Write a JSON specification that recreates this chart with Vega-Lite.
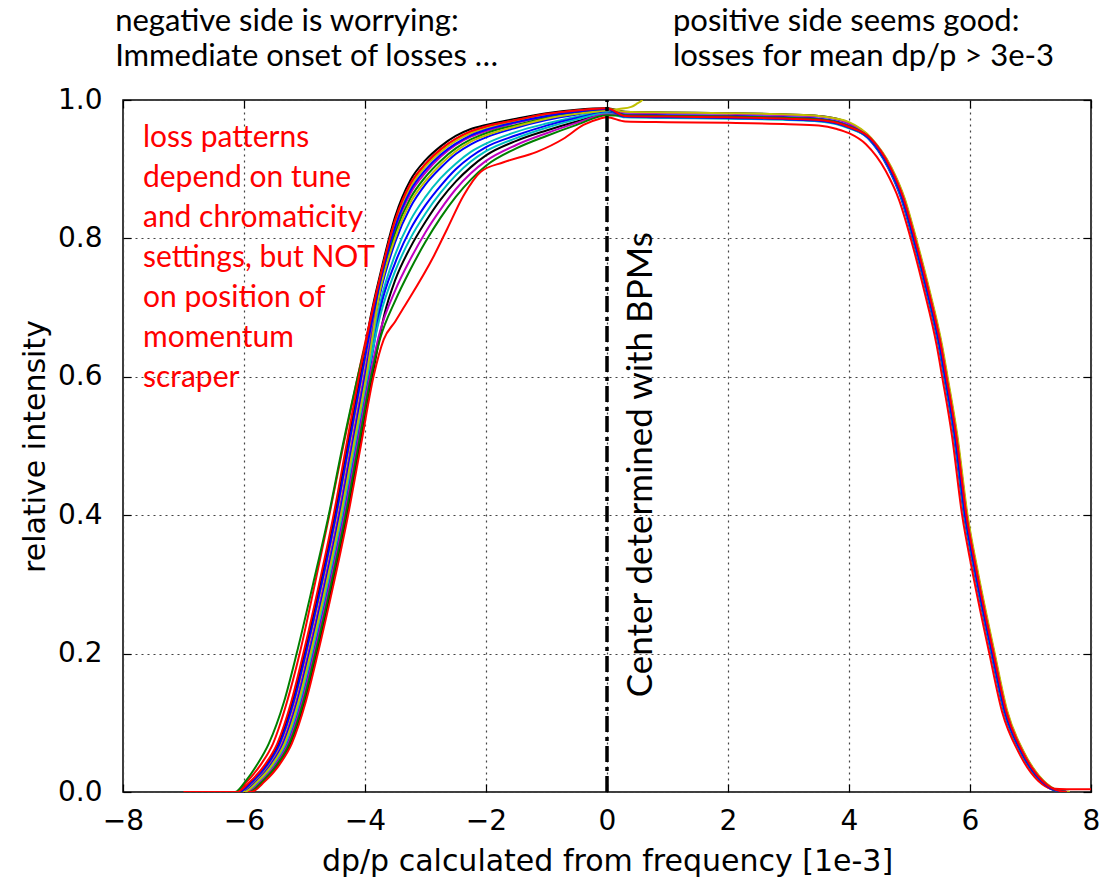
{
"$schema": "https://vega.github.io/schema/vega-lite/v6.json",
"width": 968, "height": 692,
"autosize": {"type": "none"},
"padding": {"left": 123, "top": 100, "right": 14, "bottom": 97},
"background": "white",
"config": {"view": {"stroke": "black", "strokeWidth": 1.5}},
"datasets": {
"notes": [
{"g":"top","t":"negative side is worrying:","x":-8.13,"y":1.0997},
{"g":"top","t":"Immediate onset of losses …","x":-8.13,"y":1.049},
{"g":"top","t":"positive side seems good:","x":1.09,"y":1.0997},
{"g":"top","t":"losses for mean dp/p > 3e-3","x":1.09,"y":1.049},
{"g":"red","t":"loss patterns","x":-7.67,"y":0.9325},
{"g":"red","t":"depend on tune","x":-7.67,"y":0.8747},
{"g":"red","t":"and chromaticity","x":-7.67,"y":0.8165},
{"g":"red","t":"settings, but NOT","x":-7.67,"y":0.7591},
{"g":"red","t":"on position of","x":-7.67,"y":0.7013},
{"g":"red","t":"momentum","x":-7.67,"y":0.6435},
{"g":"red","t":"scraper","x":-7.67,"y":0.5857},
{"g":"rot","t":"Center determined with BPMs","x":0.74,"y":0.137}
],
"center": [{"x":0,"y":0,"y2":1}],
"curves": [
{"c":1,"s":"k","x":-6.35,"y":0},{"c":1,"s":"k","x":-6.10,"y":0},{"c":1,"s":"k","x":-5.88,"y":0.015},{"c":1,"s":"k","x":-5.63,"y":0.04},{"c":1,"s":"k","x":-5.43,"y":0.07},{"c":1,"s":"k","x":-5.20,"y":0.13},{"c":1,"s":"k","x":-5.00,"y":0.2},{"c":1,"s":"k","x":-4.74,"y":0.3},{"c":1,"s":"k","x":-4.50,"y":0.4},{"c":1,"s":"k","x":-4.29,"y":0.5},{"c":1,"s":"k","x":-4.08,"y":0.6},{"c":1,"s":"k","x":-3.9,"y":0.69},{"c":1,"s":"k","x":-3.75,"y":0.748},{"c":1,"s":"k","x":-3.5,"y":0.832},{"c":1,"s":"k","x":-3.25,"y":0.884},{"c":1,"s":"k","x":-3.0,"y":0.913},{"c":1,"s":"k","x":-2.75,"y":0.933},{"c":1,"s":"k","x":-2.5,"y":0.948},{"c":1,"s":"k","x":-2.25,"y":0.958},{"c":1,"s":"k","x":-2.0,"y":0.964},{"c":1,"s":"k","x":-1.5,"y":0.973},{"c":1,"s":"k","x":-1.0,"y":0.981},{"c":1,"s":"k","x":-0.5,"y":0.986},{"c":1,"s":"k","x":0,"y":0.988},{"c":1,"s":"k","x":0.3,"y":0.983},{"c":1,"s":"k","x":1,"y":0.982},{"c":1,"s":"k","x":2,"y":0.981},{"c":1,"s":"k","x":3,"y":0.979},{"c":1,"s":"k","x":3.5,"y":0.977},{"c":1,"s":"k","x":3.8,"y":0.973},{"c":1,"s":"k","x":4.0,"y":0.967},{"c":1,"s":"k","x":4.36,"y":0.945},{"c":1,"s":"k","x":4.69,"y":0.903},{"c":1,"s":"k","x":4.91,"y":0.858},{"c":1,"s":"k","x":5.10,"y":0.8},{"c":1,"s":"k","x":5.31,"y":0.729},{"c":1,"s":"k","x":5.53,"y":0.645},{"c":1,"s":"k","x":5.62,"y":0.6},{"c":1,"s":"k","x":5.78,"y":0.516},{"c":1,"s":"k","x":5.95,"y":0.4},{"c":1,"s":"k","x":6.11,"y":0.323},{"c":1,"s":"k","x":6.40,"y":0.2},{"c":1,"s":"k","x":6.61,"y":0.116},{"c":1,"s":"k","x":6.88,"y":0.058},{"c":1,"s":"k","x":7.21,"y":0.016},{"c":1,"s":"k","x":7.43,"y":0.003},{"c":1,"s":"k","x":7.65,"y":0},

{"c":2,"s":"m","x":-6.35,"y":0},{"c":2,"s":"m","x":-6.04,"y":0},{"c":2,"s":"m","x":-5.82,"y":0.015},{"c":2,"s":"m","x":-5.57,"y":0.04},{"c":2,"s":"m","x":-5.37,"y":0.07},{"c":2,"s":"m","x":-5.14,"y":0.13},{"c":2,"s":"m","x":-4.94,"y":0.2},{"c":2,"s":"m","x":-4.68,"y":0.3},{"c":2,"s":"m","x":-4.44,"y":0.4},{"c":2,"s":"m","x":-4.23,"y":0.5},{"c":2,"s":"m","x":-4.02,"y":0.6},{"c":2,"s":"m","x":-3.75,"y":0.734},{"c":2,"s":"m","x":-3.5,"y":0.814},{"c":2,"s":"m","x":-3.25,"y":0.865},{"c":2,"s":"m","x":-3.0,"y":0.895},{"c":2,"s":"m","x":-2.75,"y":0.918},{"c":2,"s":"m","x":-2.5,"y":0.935},{"c":2,"s":"m","x":-2.25,"y":0.947},{"c":2,"s":"m","x":-2.0,"y":0.955},{"c":2,"s":"m","x":-1.5,"y":0.967},{"c":2,"s":"m","x":-1.0,"y":0.976},{"c":2,"s":"m","x":-0.5,"y":0.983},{"c":2,"s":"m","x":0,"y":0.986},{"c":2,"s":"m","x":0.3,"y":0.982},{"c":2,"s":"m","x":1,"y":0.981},{"c":2,"s":"m","x":2,"y":0.980},{"c":2,"s":"m","x":3,"y":0.978},{"c":2,"s":"m","x":3.5,"y":0.976},{"c":2,"s":"m","x":3.8,"y":0.972},{"c":2,"s":"m","x":4.0,"y":0.966},{"c":2,"s":"m","x":4.36,"y":0.945},{"c":2,"s":"m","x":4.69,"y":0.903},{"c":2,"s":"m","x":4.91,"y":0.858},{"c":2,"s":"m","x":5.10,"y":0.8},{"c":2,"s":"m","x":5.31,"y":0.729},{"c":2,"s":"m","x":5.53,"y":0.645},{"c":2,"s":"m","x":5.62,"y":0.6},{"c":2,"s":"m","x":5.78,"y":0.516},{"c":2,"s":"m","x":5.95,"y":0.4},{"c":2,"s":"m","x":6.11,"y":0.323},{"c":2,"s":"m","x":6.40,"y":0.2},{"c":2,"s":"m","x":6.61,"y":0.116},{"c":2,"s":"m","x":6.88,"y":0.058},{"c":2,"s":"m","x":7.21,"y":0.016},{"c":2,"s":"m","x":7.43,"y":0.003},{"c":2,"s":"m","x":7.65,"y":0},

{"c":3,"s":"b","x":-6.35,"y":0},{"c":3,"s":"b","x":-6.02,"y":0},{"c":3,"s":"b","x":-5.80,"y":0.015},{"c":3,"s":"b","x":-5.55,"y":0.04},{"c":3,"s":"b","x":-5.35,"y":0.07},{"c":3,"s":"b","x":-5.12,"y":0.13},{"c":3,"s":"b","x":-4.92,"y":0.2},{"c":3,"s":"b","x":-4.66,"y":0.3},{"c":3,"s":"b","x":-4.42,"y":0.4},{"c":3,"s":"b","x":-4.21,"y":0.5},{"c":3,"s":"b","x":-4.00,"y":0.6},{"c":3,"s":"b","x":-3.75,"y":0.720},{"c":3,"s":"b","x":-3.5,"y":0.795},{"c":3,"s":"b","x":-3.25,"y":0.845},{"c":3,"s":"b","x":-3.0,"y":0.878},{"c":3,"s":"b","x":-2.75,"y":0.902},{"c":3,"s":"b","x":-2.5,"y":0.922},{"c":3,"s":"b","x":-2.25,"y":0.936},{"c":3,"s":"b","x":-2.0,"y":0.946},{"c":3,"s":"b","x":-1.5,"y":0.960},{"c":3,"s":"b","x":-1.0,"y":0.971},{"c":3,"s":"b","x":-0.5,"y":0.979},{"c":3,"s":"b","x":0,"y":0.985},{"c":3,"s":"b","x":0.3,"y":0.979},{"c":3,"s":"b","x":1,"y":0.978},{"c":3,"s":"b","x":2,"y":0.977},{"c":3,"s":"b","x":3,"y":0.975},{"c":3,"s":"b","x":3.5,"y":0.973},{"c":3,"s":"b","x":3.8,"y":0.969},{"c":3,"s":"b","x":4.0,"y":0.963},{"c":3,"s":"b","x":4.33,"y":0.945},{"c":3,"s":"b","x":4.66,"y":0.903},{"c":3,"s":"b","x":4.88,"y":0.858},{"c":3,"s":"b","x":5.07,"y":0.8},{"c":3,"s":"b","x":5.28,"y":0.729},{"c":3,"s":"b","x":5.5,"y":0.645},{"c":3,"s":"b","x":5.59,"y":0.6},{"c":3,"s":"b","x":5.75,"y":0.516},{"c":3,"s":"b","x":5.92,"y":0.4},{"c":3,"s":"b","x":6.08,"y":0.323},{"c":3,"s":"b","x":6.37,"y":0.2},{"c":3,"s":"b","x":6.58,"y":0.116},{"c":3,"s":"b","x":6.85,"y":0.058},{"c":3,"s":"b","x":7.18,"y":0.016},{"c":3,"s":"b","x":7.4,"y":0.003},{"c":3,"s":"b","x":7.6,"y":0},

{"c":4,"s":"r","x":-6.35,"y":0},{"c":4,"s":"r","x":-6.12,"y":0},{"c":4,"s":"r","x":-5.95,"y":0.015},{"c":4,"s":"r","x":-5.72,"y":0.04},{"c":4,"s":"r","x":-5.52,"y":0.07},{"c":4,"s":"r","x":-5.29,"y":0.13},{"c":4,"s":"r","x":-5.08,"y":0.2},{"c":4,"s":"r","x":-4.83,"y":0.3},{"c":4,"s":"r","x":-4.59,"y":0.4},{"c":4,"s":"r","x":-4.36,"y":0.5},{"c":4,"s":"r","x":-4.12,"y":0.6},{"c":4,"s":"r","x":-3.75,"y":0.743},{"c":4,"s":"r","x":-3.5,"y":0.826},{"c":4,"s":"r","x":-3.25,"y":0.878},{"c":4,"s":"r","x":-3.0,"y":0.907},{"c":4,"s":"r","x":-2.75,"y":0.928},{"c":4,"s":"r","x":-2.5,"y":0.944},{"c":4,"s":"r","x":-2.25,"y":0.954},{"c":4,"s":"r","x":-2.0,"y":0.961},{"c":4,"s":"r","x":-1.5,"y":0.971},{"c":4,"s":"r","x":-1.0,"y":0.979},{"c":4,"s":"r","x":-0.5,"y":0.985},{"c":4,"s":"r","x":0,"y":0.987},{"c":4,"s":"r","x":0.3,"y":0.977},{"c":4,"s":"r","x":1,"y":0.976},{"c":4,"s":"r","x":2,"y":0.975},{"c":4,"s":"r","x":3,"y":0.973},{"c":4,"s":"r","x":3.5,"y":0.971},{"c":4,"s":"r","x":3.8,"y":0.967},{"c":4,"s":"r","x":4.0,"y":0.961},{"c":4,"s":"r","x":4.32,"y":0.945},{"c":4,"s":"r","x":4.65,"y":0.903},{"c":4,"s":"r","x":4.87,"y":0.858},{"c":4,"s":"r","x":5.06,"y":0.8},{"c":4,"s":"r","x":5.27,"y":0.729},{"c":4,"s":"r","x":5.49,"y":0.645},{"c":4,"s":"r","x":5.58,"y":0.6},{"c":4,"s":"r","x":5.74,"y":0.516},{"c":4,"s":"r","x":5.91,"y":0.4},{"c":4,"s":"r","x":6.07,"y":0.323},{"c":4,"s":"r","x":6.36,"y":0.2},{"c":4,"s":"r","x":6.57,"y":0.116},{"c":4,"s":"r","x":6.84,"y":0.058},{"c":4,"s":"r","x":7.17,"y":0.016},{"c":4,"s":"r","x":7.39,"y":0.003},{"c":4,"s":"r","x":7.6,"y":0},

{"c":5,"s":"c","x":-6.35,"y":0},{"c":5,"s":"c","x":-5.99,"y":0},{"c":5,"s":"c","x":-5.77,"y":0.015},{"c":5,"s":"c","x":-5.52,"y":0.04},{"c":5,"s":"c","x":-5.32,"y":0.07},{"c":5,"s":"c","x":-5.09,"y":0.13},{"c":5,"s":"c","x":-4.89,"y":0.2},{"c":5,"s":"c","x":-4.63,"y":0.3},{"c":5,"s":"c","x":-4.39,"y":0.4},{"c":5,"s":"c","x":-4.18,"y":0.5},{"c":5,"s":"c","x":-3.97,"y":0.6},{"c":5,"s":"c","x":-3.75,"y":0.706},{"c":5,"s":"c","x":-3.5,"y":0.777},{"c":5,"s":"c","x":-3.25,"y":0.826},{"c":5,"s":"c","x":-3.0,"y":0.860},{"c":5,"s":"c","x":-2.75,"y":0.887},{"c":5,"s":"c","x":-2.5,"y":0.908},{"c":5,"s":"c","x":-2.25,"y":0.925},{"c":5,"s":"c","x":-2.0,"y":0.937},{"c":5,"s":"c","x":-1.5,"y":0.954},{"c":5,"s":"c","x":-1.0,"y":0.966},{"c":5,"s":"c","x":-0.5,"y":0.976},{"c":5,"s":"c","x":0,"y":0.983},{"c":5,"s":"c","x":0.3,"y":0.976},{"c":5,"s":"c","x":1,"y":0.975},{"c":5,"s":"c","x":2,"y":0.974},{"c":5,"s":"c","x":3,"y":0.972},{"c":5,"s":"c","x":3.5,"y":0.970},{"c":5,"s":"c","x":3.8,"y":0.966},{"c":5,"s":"c","x":4.0,"y":0.960},{"c":5,"s":"c","x":4.33,"y":0.945},{"c":5,"s":"c","x":4.66,"y":0.903},{"c":5,"s":"c","x":4.88,"y":0.858},{"c":5,"s":"c","x":5.07,"y":0.8},{"c":5,"s":"c","x":5.28,"y":0.729},{"c":5,"s":"c","x":5.5,"y":0.645},{"c":5,"s":"c","x":5.59,"y":0.6},{"c":5,"s":"c","x":5.75,"y":0.516},{"c":5,"s":"c","x":5.92,"y":0.4},{"c":5,"s":"c","x":6.08,"y":0.323},{"c":5,"s":"c","x":6.37,"y":0.2},{"c":5,"s":"c","x":6.58,"y":0.116},{"c":5,"s":"c","x":6.85,"y":0.058},{"c":5,"s":"c","x":7.18,"y":0.016},{"c":5,"s":"c","x":7.4,"y":0.003},{"c":5,"s":"c","x":7.6,"y":0},

{"c":6,"s":"y","x":-6.35,"y":0},{"c":6,"s":"y","x":-6.07,"y":0},{"c":6,"s":"y","x":-5.85,"y":0.015},{"c":6,"s":"y","x":-5.60,"y":0.04},{"c":6,"s":"y","x":-5.40,"y":0.07},{"c":6,"s":"y","x":-5.17,"y":0.13},{"c":6,"s":"y","x":-4.97,"y":0.2},{"c":6,"s":"y","x":-4.71,"y":0.3},{"c":6,"s":"y","x":-4.47,"y":0.4},{"c":6,"s":"y","x":-4.26,"y":0.5},{"c":6,"s":"y","x":-4.05,"y":0.6},{"c":6,"s":"y","x":-3.75,"y":0.741},{"c":6,"s":"y","x":-3.5,"y":0.822},{"c":6,"s":"y","x":-3.25,"y":0.874},{"c":6,"s":"y","x":-3.0,"y":0.904},{"c":6,"s":"y","x":-2.75,"y":0.925},{"c":6,"s":"y","x":-2.5,"y":0.941},{"c":6,"s":"y","x":-2.25,"y":0.952},{"c":6,"s":"y","x":-2.0,"y":0.959},{"c":6,"s":"y","x":-1.5,"y":0.970},{"c":6,"s":"y","x":-1.0,"y":0.978},{"c":6,"s":"y","x":-0.5,"y":0.984},{"c":6,"s":"y","x":0,"y":0.987},{"c":6,"s":"y","x":0.3,"y":0.983},{"c":6,"s":"y","x":1,"y":0.982},{"c":6,"s":"y","x":2,"y":0.981},{"c":6,"s":"y","x":3,"y":0.979},{"c":6,"s":"y","x":3.5,"y":0.977},{"c":6,"s":"y","x":3.8,"y":0.973},{"c":6,"s":"y","x":4.0,"y":0.968},{"c":6,"s":"y","x":4.37,"y":0.945},{"c":6,"s":"y","x":4.70,"y":0.903},{"c":6,"s":"y","x":4.92,"y":0.858},{"c":6,"s":"y","x":5.11,"y":0.8},{"c":6,"s":"y","x":5.32,"y":0.729},{"c":6,"s":"y","x":5.54,"y":0.645},{"c":6,"s":"y","x":5.63,"y":0.6},{"c":6,"s":"y","x":5.79,"y":0.516},{"c":6,"s":"y","x":5.96,"y":0.4},{"c":6,"s":"y","x":6.12,"y":0.323},{"c":6,"s":"y","x":6.41,"y":0.2},{"c":6,"s":"y","x":6.62,"y":0.116},{"c":6,"s":"y","x":6.89,"y":0.058},{"c":6,"s":"y","x":7.22,"y":0.016},{"c":6,"s":"y","x":7.44,"y":0.003},{"c":6,"s":"y","x":7.65,"y":0},

{"c":7,"s":"k","x":-6.35,"y":0},{"c":7,"s":"k","x":-5.90,"y":0},{"c":7,"s":"k","x":-5.68,"y":0.015},{"c":7,"s":"k","x":-5.43,"y":0.04},{"c":7,"s":"k","x":-5.23,"y":0.07},{"c":7,"s":"k","x":-5.00,"y":0.13},{"c":7,"s":"k","x":-4.80,"y":0.2},{"c":7,"s":"k","x":-4.54,"y":0.3},{"c":7,"s":"k","x":-4.30,"y":0.4},{"c":7,"s":"k","x":-4.09,"y":0.5},{"c":7,"s":"k","x":-3.88,"y":0.6},{"c":7,"s":"k","x":-3.68,"y":0.69},{"c":7,"s":"k","x":-3.5,"y":0.740},{"c":7,"s":"k","x":-3.25,"y":0.787},{"c":7,"s":"k","x":-3.0,"y":0.824},{"c":7,"s":"k","x":-2.75,"y":0.856},{"c":7,"s":"k","x":-2.5,"y":0.882},{"c":7,"s":"k","x":-2.25,"y":0.903},{"c":7,"s":"k","x":-2.0,"y":0.920},{"c":7,"s":"k","x":-1.5,"y":0.941},{"c":7,"s":"k","x":-1.0,"y":0.956},{"c":7,"s":"k","x":-0.5,"y":0.969},{"c":7,"s":"k","x":0,"y":0.980},{"c":7,"s":"k","x":0.3,"y":0.977},{"c":7,"s":"k","x":1,"y":0.976},{"c":7,"s":"k","x":2,"y":0.975},{"c":7,"s":"k","x":3,"y":0.973},{"c":7,"s":"k","x":3.5,"y":0.971},{"c":7,"s":"k","x":3.8,"y":0.967},{"c":7,"s":"k","x":4.0,"y":0.961},{"c":7,"s":"k","x":4.34,"y":0.945},{"c":7,"s":"k","x":4.67,"y":0.903},{"c":7,"s":"k","x":4.89,"y":0.858},{"c":7,"s":"k","x":5.08,"y":0.8},{"c":7,"s":"k","x":5.29,"y":0.729},{"c":7,"s":"k","x":5.51,"y":0.645},{"c":7,"s":"k","x":5.60,"y":0.6},{"c":7,"s":"k","x":5.76,"y":0.516},{"c":7,"s":"k","x":5.93,"y":0.4},{"c":7,"s":"k","x":6.09,"y":0.323},{"c":7,"s":"k","x":6.38,"y":0.2},{"c":7,"s":"k","x":6.59,"y":0.116},{"c":7,"s":"k","x":6.86,"y":0.058},{"c":7,"s":"k","x":7.19,"y":0.016},{"c":7,"s":"k","x":7.41,"y":0.003},{"c":7,"s":"k","x":7.6,"y":0},

{"c":8,"s":"b","x":-6.35,"y":0},{"c":8,"s":"b","x":-5.96,"y":0},{"c":8,"s":"b","x":-5.74,"y":0.015},{"c":8,"s":"b","x":-5.49,"y":0.04},{"c":8,"s":"b","x":-5.29,"y":0.07},{"c":8,"s":"b","x":-5.06,"y":0.13},{"c":8,"s":"b","x":-4.86,"y":0.2},{"c":8,"s":"b","x":-4.60,"y":0.3},{"c":8,"s":"b","x":-4.36,"y":0.4},{"c":8,"s":"b","x":-4.15,"y":0.5},{"c":8,"s":"b","x":-3.94,"y":0.6},{"c":8,"s":"b","x":-3.75,"y":0.697},{"c":8,"s":"b","x":-3.5,"y":0.765},{"c":8,"s":"b","x":-3.25,"y":0.813},{"c":8,"s":"b","x":-3.0,"y":0.848},{"c":8,"s":"b","x":-2.75,"y":0.876},{"c":8,"s":"b","x":-2.5,"y":0.900},{"c":8,"s":"b","x":-2.25,"y":0.918},{"c":8,"s":"b","x":-2.0,"y":0.932},{"c":8,"s":"b","x":-1.5,"y":0.949},{"c":8,"s":"b","x":-1.0,"y":0.963},{"c":8,"s":"b","x":-0.5,"y":0.974},{"c":8,"s":"b","x":0,"y":0.982},{"c":8,"s":"b","x":0.3,"y":0.976},{"c":8,"s":"b","x":1,"y":0.975},{"c":8,"s":"b","x":2,"y":0.974},{"c":8,"s":"b","x":3,"y":0.972},{"c":8,"s":"b","x":3.5,"y":0.970},{"c":8,"s":"b","x":3.8,"y":0.966},{"c":8,"s":"b","x":4.0,"y":0.960},{"c":8,"s":"b","x":4.31,"y":0.945},{"c":8,"s":"b","x":4.64,"y":0.903},{"c":8,"s":"b","x":4.86,"y":0.858},{"c":8,"s":"b","x":5.05,"y":0.8},{"c":8,"s":"b","x":5.26,"y":0.729},{"c":8,"s":"b","x":5.48,"y":0.645},{"c":8,"s":"b","x":5.57,"y":0.6},{"c":8,"s":"b","x":5.73,"y":0.516},{"c":8,"s":"b","x":5.90,"y":0.4},{"c":8,"s":"b","x":6.06,"y":0.323},{"c":8,"s":"b","x":6.35,"y":0.2},{"c":8,"s":"b","x":6.56,"y":0.116},{"c":8,"s":"b","x":6.83,"y":0.058},{"c":8,"s":"b","x":7.16,"y":0.016},{"c":8,"s":"b","x":7.38,"y":0.003},{"c":8,"s":"b","x":7.6,"y":0},

{"c":9,"s":"c","x":-6.35,"y":0},{"c":9,"s":"c","x":-5.98,"y":0},{"c":9,"s":"c","x":-5.76,"y":0.015},{"c":9,"s":"c","x":-5.51,"y":0.04},{"c":9,"s":"c","x":-5.31,"y":0.07},{"c":9,"s":"c","x":-5.08,"y":0.13},{"c":9,"s":"c","x":-4.88,"y":0.2},{"c":9,"s":"c","x":-4.62,"y":0.3},{"c":9,"s":"c","x":-4.38,"y":0.4},{"c":9,"s":"c","x":-4.17,"y":0.5},{"c":9,"s":"c","x":-3.96,"y":0.6},{"c":9,"s":"c","x":-3.75,"y":0.688},{"c":9,"s":"c","x":-3.5,"y":0.753},{"c":9,"s":"c","x":-3.25,"y":0.800},{"c":9,"s":"c","x":-3.0,"y":0.836},{"c":9,"s":"c","x":-2.75,"y":0.866},{"c":9,"s":"c","x":-2.5,"y":0.891},{"c":9,"s":"c","x":-2.25,"y":0.911},{"c":9,"s":"c","x":-2.0,"y":0.926},{"c":9,"s":"c","x":-1.5,"y":0.945},{"c":9,"s":"c","x":-1.0,"y":0.960},{"c":9,"s":"c","x":-0.5,"y":0.972},{"c":9,"s":"c","x":0,"y":0.981},{"c":9,"s":"c","x":0.3,"y":0.975},{"c":9,"s":"c","x":1,"y":0.974},{"c":9,"s":"c","x":2,"y":0.973},{"c":9,"s":"c","x":3,"y":0.971},{"c":9,"s":"c","x":3.5,"y":0.969},{"c":9,"s":"c","x":3.8,"y":0.965},{"c":9,"s":"c","x":4.0,"y":0.959},{"c":9,"s":"c","x":4.32,"y":0.945},{"c":9,"s":"c","x":4.65,"y":0.903},{"c":9,"s":"c","x":4.87,"y":0.858},{"c":9,"s":"c","x":5.06,"y":0.8},{"c":9,"s":"c","x":5.27,"y":0.729},{"c":9,"s":"c","x":5.49,"y":0.645},{"c":9,"s":"c","x":5.58,"y":0.6},{"c":9,"s":"c","x":5.74,"y":0.516},{"c":9,"s":"c","x":5.91,"y":0.4},{"c":9,"s":"c","x":6.07,"y":0.323},{"c":9,"s":"c","x":6.36,"y":0.2},{"c":9,"s":"c","x":6.57,"y":0.116},{"c":9,"s":"c","x":6.84,"y":0.058},{"c":9,"s":"c","x":7.17,"y":0.016},{"c":9,"s":"c","x":7.39,"y":0.003},{"c":9,"s":"c","x":7.6,"y":0},

{"c":10,"s":"m","x":-6.35,"y":0},{"c":10,"s":"m","x":-5.94,"y":0},{"c":10,"s":"m","x":-5.72,"y":0.015},{"c":10,"s":"m","x":-5.47,"y":0.04},{"c":10,"s":"m","x":-5.27,"y":0.07},{"c":10,"s":"m","x":-5.04,"y":0.13},{"c":10,"s":"m","x":-4.84,"y":0.2},{"c":10,"s":"m","x":-4.58,"y":0.3},{"c":10,"s":"m","x":-4.34,"y":0.4},{"c":10,"s":"m","x":-4.13,"y":0.5},{"c":10,"s":"m","x":-3.92,"y":0.6},{"c":10,"s":"m","x":-3.75,"y":0.666},{"c":10,"s":"m","x":-3.5,"y":0.725},{"c":10,"s":"m","x":-3.25,"y":0.770},{"c":10,"s":"m","x":-3.0,"y":0.809},{"c":10,"s":"m","x":-2.75,"y":0.842},{"c":10,"s":"m","x":-2.5,"y":0.871},{"c":10,"s":"m","x":-2.25,"y":0.894},{"c":10,"s":"m","x":-2.0,"y":0.912},{"c":10,"s":"m","x":-1.5,"y":0.935},{"c":10,"s":"m","x":-1.0,"y":0.952},{"c":10,"s":"m","x":-0.5,"y":0.967},{"c":10,"s":"m","x":0,"y":0.979},{"c":10,"s":"m","x":0.3,"y":0.978},{"c":10,"s":"m","x":1,"y":0.977},{"c":10,"s":"m","x":2,"y":0.976},{"c":10,"s":"m","x":3,"y":0.974},{"c":10,"s":"m","x":3.5,"y":0.972},{"c":10,"s":"m","x":3.8,"y":0.968},{"c":10,"s":"m","x":4.0,"y":0.962},{"c":10,"s":"m","x":4.35,"y":0.945},{"c":10,"s":"m","x":4.68,"y":0.903},{"c":10,"s":"m","x":4.90,"y":0.858},{"c":10,"s":"m","x":5.09,"y":0.8},{"c":10,"s":"m","x":5.30,"y":0.729},{"c":10,"s":"m","x":5.52,"y":0.645},{"c":10,"s":"m","x":5.61,"y":0.6},{"c":10,"s":"m","x":5.77,"y":0.516},{"c":10,"s":"m","x":5.94,"y":0.4},{"c":10,"s":"m","x":6.10,"y":0.323},{"c":10,"s":"m","x":6.39,"y":0.2},{"c":10,"s":"m","x":6.60,"y":0.116},{"c":10,"s":"m","x":6.87,"y":0.058},{"c":10,"s":"m","x":7.20,"y":0.016},{"c":10,"s":"m","x":7.42,"y":0.003},{"c":10,"s":"m","x":7.6,"y":0},

{"c":11,"s":"g","x":-6.35,"y":0},{"c":11,"s":"g","x":-5.92,"y":0},{"c":11,"s":"g","x":-5.70,"y":0.015},{"c":11,"s":"g","x":-5.45,"y":0.04},{"c":11,"s":"g","x":-5.25,"y":0.07},{"c":11,"s":"g","x":-5.02,"y":0.13},{"c":11,"s":"g","x":-4.82,"y":0.2},{"c":11,"s":"g","x":-4.56,"y":0.3},{"c":11,"s":"g","x":-4.32,"y":0.4},{"c":11,"s":"g","x":-4.11,"y":0.5},{"c":11,"s":"g","x":-3.90,"y":0.6},{"c":11,"s":"g","x":-3.75,"y":0.655},{"c":11,"s":"g","x":-3.5,"y":0.710},{"c":11,"s":"g","x":-3.25,"y":0.755},{"c":11,"s":"g","x":-3.0,"y":0.795},{"c":11,"s":"g","x":-2.75,"y":0.830},{"c":11,"s":"g","x":-2.5,"y":0.860},{"c":11,"s":"g","x":-2.25,"y":0.885},{"c":11,"s":"g","x":-2.0,"y":0.905},{"c":11,"s":"g","x":-1.5,"y":0.930},{"c":11,"s":"g","x":-1.0,"y":0.948},{"c":11,"s":"g","x":-0.5,"y":0.964},{"c":11,"s":"g","x":0,"y":0.978},{"c":11,"s":"g","x":0.3,"y":0.977},{"c":11,"s":"g","x":1,"y":0.976},{"c":11,"s":"g","x":2,"y":0.975},{"c":11,"s":"g","x":3,"y":0.973},{"c":11,"s":"g","x":3.5,"y":0.971},{"c":11,"s":"g","x":3.8,"y":0.967},{"c":11,"s":"g","x":4.0,"y":0.961},{"c":11,"s":"g","x":4.33,"y":0.945},{"c":11,"s":"g","x":4.66,"y":0.903},{"c":11,"s":"g","x":4.88,"y":0.858},{"c":11,"s":"g","x":5.07,"y":0.8},{"c":11,"s":"g","x":5.28,"y":0.729},{"c":11,"s":"g","x":5.5,"y":0.645},{"c":11,"s":"g","x":5.59,"y":0.6},{"c":11,"s":"g","x":5.75,"y":0.516},{"c":11,"s":"g","x":5.92,"y":0.4},{"c":11,"s":"g","x":6.08,"y":0.323},{"c":11,"s":"g","x":6.37,"y":0.2},{"c":11,"s":"g","x":6.58,"y":0.116},{"c":11,"s":"g","x":6.85,"y":0.058},{"c":11,"s":"g","x":7.18,"y":0.016},{"c":11,"s":"g","x":7.4,"y":0.003},{"c":11,"s":"g","x":7.6,"y":0},

{"c":12,"s":"r","x":-6.35,"y":0},{"c":12,"s":"r","x":-5.88,"y":0},{"c":12,"s":"r","x":-5.66,"y":0.015},{"c":12,"s":"r","x":-5.41,"y":0.04},{"c":12,"s":"r","x":-5.21,"y":0.07},{"c":12,"s":"r","x":-4.98,"y":0.13},{"c":12,"s":"r","x":-4.78,"y":0.2},{"c":12,"s":"r","x":-4.52,"y":0.3},{"c":12,"s":"r","x":-4.28,"y":0.4},{"c":12,"s":"r","x":-4.07,"y":0.5},{"c":12,"s":"r","x":-3.86,"y":0.6},{"c":12,"s":"r","x":-3.69,"y":0.654},{"c":12,"s":"r","x":-3.5,"y":0.68},{"c":12,"s":"r","x":-3.36,"y":0.70},{"c":12,"s":"r","x":-2.86,"y":0.775},{"c":12,"s":"r","x":-2.64,"y":0.814},{"c":12,"s":"r","x":-2.37,"y":0.862},{"c":12,"s":"r","x":-2.09,"y":0.896},{"c":12,"s":"r","x":-1.71,"y":0.91},{"c":12,"s":"r","x":-1.16,"y":0.925},{"c":12,"s":"r","x":-0.72,"y":0.944},{"c":12,"s":"r","x":-0.39,"y":0.964},{"c":12,"s":"r","x":-0.12,"y":0.973},{"c":12,"s":"r","x":0,"y":0.975},{"c":12,"s":"r","x":0.3,"y":0.969},{"c":12,"s":"r","x":1,"y":0.968},{"c":12,"s":"r","x":2,"y":0.967},{"c":12,"s":"r","x":3,"y":0.965},{"c":12,"s":"r","x":3.5,"y":0.963},{"c":12,"s":"r","x":3.8,"y":0.958},{"c":12,"s":"r","x":4.0,"y":0.952},{"c":12,"s":"r","x":4.28,"y":0.936},{"c":12,"s":"r","x":4.61,"y":0.897},{"c":12,"s":"r","x":4.83,"y":0.855},{"c":12,"s":"r","x":5.02,"y":0.8},{"c":12,"s":"r","x":5.23,"y":0.729},{"c":12,"s":"r","x":5.45,"y":0.645},{"c":12,"s":"r","x":5.54,"y":0.6},{"c":12,"s":"r","x":5.70,"y":0.516},{"c":12,"s":"r","x":5.87,"y":0.4},{"c":12,"s":"r","x":6.03,"y":0.323},{"c":12,"s":"r","x":6.32,"y":0.2},{"c":12,"s":"r","x":6.53,"y":0.116},{"c":12,"s":"r","x":6.80,"y":0.058},{"c":12,"s":"r","x":7.13,"y":0.016},{"c":12,"s":"r","x":7.35,"y":0.005},{"c":12,"s":"r","x":7.6,"y":0.004},{"c":12,"s":"r","x":8.0,"y":0.004},

{"c":13,"s":"g","x":-6.35,"y":0},{"c":13,"s":"g","x":-6.15,"y":0},{"c":13,"s":"g","x":-5.98,"y":0.015},{"c":13,"s":"g","x":-5.78,"y":0.04},{"c":13,"s":"g","x":-5.59,"y":0.07},{"c":13,"s":"g","x":-5.34,"y":0.13},{"c":13,"s":"g","x":-5.13,"y":0.2},{"c":13,"s":"g","x":-4.86,"y":0.3},{"c":13,"s":"g","x":-4.60,"y":0.4},{"c":13,"s":"g","x":-4.37,"y":0.5},{"c":13,"s":"g","x":-4.12,"y":0.6},{"c":13,"s":"g","x":-3.75,"y":0.729},{"c":13,"s":"g","x":-3.5,"y":0.808},{"c":13,"s":"g","x":-3.25,"y":0.858},{"c":13,"s":"g","x":-3.0,"y":0.889},{"c":13,"s":"g","x":-2.75,"y":0.912},{"c":13,"s":"g","x":-2.5,"y":0.930},{"c":13,"s":"g","x":-2.25,"y":0.943},{"c":13,"s":"g","x":-2.0,"y":0.952},{"c":13,"s":"g","x":-1.5,"y":0.964},{"c":13,"s":"g","x":-1.0,"y":0.974},{"c":13,"s":"g","x":-0.5,"y":0.982},{"c":13,"s":"g","x":0,"y":0.986},{"c":13,"s":"g","x":0.3,"y":0.978},{"c":13,"s":"g","x":1,"y":0.977},{"c":13,"s":"g","x":2,"y":0.976},{"c":13,"s":"g","x":3,"y":0.974},{"c":13,"s":"g","x":3.5,"y":0.972},{"c":13,"s":"g","x":3.8,"y":0.968},{"c":13,"s":"g","x":4.0,"y":0.962},{"c":13,"s":"g","x":4.34,"y":0.945},{"c":13,"s":"g","x":4.67,"y":0.903},{"c":13,"s":"g","x":4.89,"y":0.858},{"c":13,"s":"g","x":5.08,"y":0.8},{"c":13,"s":"g","x":5.29,"y":0.729},{"c":13,"s":"g","x":5.51,"y":0.645},{"c":13,"s":"g","x":5.60,"y":0.6},{"c":13,"s":"g","x":5.76,"y":0.516},{"c":13,"s":"g","x":5.93,"y":0.4},{"c":13,"s":"g","x":6.09,"y":0.323},{"c":13,"s":"g","x":6.38,"y":0.2},{"c":13,"s":"g","x":6.59,"y":0.116},{"c":13,"s":"g","x":6.86,"y":0.058},{"c":13,"s":"g","x":7.19,"y":0.016},{"c":13,"s":"g","x":7.41,"y":0.003},{"c":13,"s":"g","x":7.6,"y":0},

{"c":14,"s":"y","x":-6.35,"y":0},{"c":14,"s":"y","x":-6.00,"y":0},{"c":14,"s":"y","x":-5.78,"y":0.015},{"c":14,"s":"y","x":-5.53,"y":0.04},{"c":14,"s":"y","x":-5.33,"y":0.07},{"c":14,"s":"y","x":-5.10,"y":0.13},{"c":14,"s":"y","x":-4.90,"y":0.2},{"c":14,"s":"y","x":-4.64,"y":0.3},{"c":14,"s":"y","x":-4.40,"y":0.4},{"c":14,"s":"y","x":-4.19,"y":0.5},{"c":14,"s":"y","x":-3.98,"y":0.6},{"c":14,"s":"y","x":-3.75,"y":0.725},{"c":14,"s":"y","x":-3.5,"y":0.801},{"c":14,"s":"y","x":-3.25,"y":0.852},{"c":14,"s":"y","x":-3.0,"y":0.883},{"c":14,"s":"y","x":-2.75,"y":0.907},{"c":14,"s":"y","x":-2.5,"y":0.926},{"c":14,"s":"y","x":-2.25,"y":0.940},{"c":14,"s":"y","x":-2.0,"y":0.949},{"c":14,"s":"y","x":-1.5,"y":0.962},{"c":14,"s":"y","x":-1.0,"y":0.973},{"c":14,"s":"y","x":-0.5,"y":0.980},{"c":14,"s":"y","x":0,"y":0.985},{"c":14,"s":"y","x":0.2,"y":0.987},{"c":14,"s":"y","x":0.4,"y":0.99},{"c":14,"s":"y","x":0.5,"y":0.995},{"c":14,"s":"y","x":0.58,"y":1.0},{"c":14,"s":"y","x":0.65,"y":1.01},{"c":14,"s":"y","x":0.75,"y":1.03},

{"c":15,"s":"b","x":-6.35,"y":0},{"c":15,"s":"b","x":-6.08,"y":0},{"c":15,"s":"b","x":-5.86,"y":0.015},{"c":15,"s":"b","x":-5.61,"y":0.04},{"c":15,"s":"b","x":-5.41,"y":0.07},{"c":15,"s":"b","x":-5.18,"y":0.13},{"c":15,"s":"b","x":-4.98,"y":0.2},{"c":15,"s":"b","x":-4.72,"y":0.3},{"c":15,"s":"b","x":-4.48,"y":0.4},{"c":15,"s":"b","x":-4.27,"y":0.5},{"c":15,"s":"b","x":-4.06,"y":0.6},{"c":15,"s":"b","x":-3.75,"y":0.737},{"c":15,"s":"b","x":-3.5,"y":0.817},{"c":15,"s":"b","x":-3.25,"y":0.869},{"c":15,"s":"b","x":-3.0,"y":0.899},{"c":15,"s":"b","x":-2.75,"y":0.921},{"c":15,"s":"b","x":-2.5,"y":0.937},{"c":15,"s":"b","x":-2.25,"y":0.949},{"c":15,"s":"b","x":-2.0,"y":0.957},{"c":15,"s":"b","x":-1.5,"y":0.968},{"c":15,"s":"b","x":-1.0,"y":0.977},{"c":15,"s":"b","x":-0.5,"y":0.983},{"c":15,"s":"b","x":0,"y":0.987},{"c":15,"s":"b","x":0.3,"y":0.976},{"c":15,"s":"b","x":1,"y":0.975},{"c":15,"s":"b","x":2,"y":0.974},{"c":15,"s":"b","x":3,"y":0.972},{"c":15,"s":"b","x":3.5,"y":0.970},{"c":15,"s":"b","x":3.8,"y":0.966},{"c":15,"s":"b","x":4.0,"y":0.960},{"c":15,"s":"b","x":4.33,"y":0.945},{"c":15,"s":"b","x":4.66,"y":0.903},{"c":15,"s":"b","x":4.88,"y":0.858},{"c":15,"s":"b","x":5.07,"y":0.8},{"c":15,"s":"b","x":5.28,"y":0.729},{"c":15,"s":"b","x":5.5,"y":0.645},{"c":15,"s":"b","x":5.59,"y":0.6},{"c":15,"s":"b","x":5.75,"y":0.516},{"c":15,"s":"b","x":5.92,"y":0.4},{"c":15,"s":"b","x":6.08,"y":0.323},{"c":15,"s":"b","x":6.37,"y":0.2},{"c":15,"s":"b","x":6.58,"y":0.116},{"c":15,"s":"b","x":6.85,"y":0.058},{"c":15,"s":"b","x":7.18,"y":0.016},{"c":15,"s":"b","x":7.4,"y":0.003},{"c":15,"s":"b","x":7.6,"y":0},

{"c":16,"s":"r","x":-7.0,"y":0},{"c":16,"s":"r","x":-6.12,"y":0},{"c":16,"s":"r","x":-5.90,"y":0.015},{"c":16,"s":"r","x":-5.65,"y":0.04},{"c":16,"s":"r","x":-5.45,"y":0.07},{"c":16,"s":"r","x":-5.22,"y":0.13},{"c":16,"s":"r","x":-5.02,"y":0.2},{"c":16,"s":"r","x":-4.76,"y":0.3},{"c":16,"s":"r","x":-4.52,"y":0.4},{"c":16,"s":"r","x":-4.31,"y":0.5},{"c":16,"s":"r","x":-4.10,"y":0.6},{"c":16,"s":"r","x":-3.75,"y":0.744},{"c":16,"s":"r","x":-3.5,"y":0.827},{"c":16,"s":"r","x":-3.25,"y":0.879},{"c":16,"s":"r","x":-3.0,"y":0.908},{"c":16,"s":"r","x":-2.75,"y":0.929},{"c":16,"s":"r","x":-2.5,"y":0.944},{"c":16,"s":"r","x":-2.25,"y":0.955},{"c":16,"s":"r","x":-2.0,"y":0.962},{"c":16,"s":"r","x":-1.5,"y":0.971},{"c":16,"s":"r","x":-1.0,"y":0.980},{"c":16,"s":"r","x":-0.5,"y":0.985},{"c":16,"s":"r","x":0,"y":0.988},{"c":16,"s":"r","x":0.3,"y":0.977},{"c":16,"s":"r","x":1,"y":0.976},{"c":16,"s":"r","x":2,"y":0.975},{"c":16,"s":"r","x":3,"y":0.973},{"c":16,"s":"r","x":3.5,"y":0.971},{"c":16,"s":"r","x":3.8,"y":0.967},{"c":16,"s":"r","x":4.0,"y":0.961},{"c":16,"s":"r","x":4.35,"y":0.945},{"c":16,"s":"r","x":4.68,"y":0.903},{"c":16,"s":"r","x":4.90,"y":0.858},{"c":16,"s":"r","x":5.09,"y":0.8},{"c":16,"s":"r","x":5.30,"y":0.729},{"c":16,"s":"r","x":5.52,"y":0.645},{"c":16,"s":"r","x":5.61,"y":0.6},{"c":16,"s":"r","x":5.77,"y":0.516},{"c":16,"s":"r","x":5.94,"y":0.4},{"c":16,"s":"r","x":6.10,"y":0.323},{"c":16,"s":"r","x":6.39,"y":0.2},{"c":16,"s":"r","x":6.60,"y":0.116},{"c":16,"s":"r","x":6.87,"y":0.058},{"c":16,"s":"r","x":7.20,"y":0.016},{"c":16,"s":"r","x":7.42,"y":0.003},{"c":16,"s":"r","x":7.6,"y":0}
]
},
"layer": [
{
"data": {"name": "curves"},
"mark": {"type": "line", "strokeWidth": 2, "clip": true, "interpolate": "monotone"},
"encoding": {
"x": {"field": "x", "type": "quantitative", "scale": {"domain": [-8, 8], "nice": false, "zero": false},
 "axis": {"values": [-8,-6,-4,-2,0,2,4,6,8], "title": "dp/p calculated from frequency [1e-3]", "grid": true, "gridDash": [2,4], "gridColor": "#444", "gridWidth": 1.2, "domain": false, "tickSize": -8, "tickColor": "black", "tickWidth": 1.2, "labelFont": "DejaVu Sans", "labelFontSize": 28, "labelColor": "black", "labelPadding": 23, "labelFlush": false, "labelOverlap": false, "titleFont": "DejaVu Sans", "titleFontSize": 30, "titleFontWeight": "normal", "titleColor": "black", "titleX": 484, "titleY": 78, "titleBaseline": "alphabetic", "titleAlign": "center", "titleAnchor": "middle"}},
"y": {"field": "y", "type": "quantitative", "scale": {"domain": [0, 1], "nice": false, "zero": false},
 "axis": {"values": [0,0.2,0.4,0.6,0.8,1], "format": ".1f", "title": "relative intensity", "grid": true, "gridDash": [2,4], "gridColor": "#444", "gridWidth": 1.2, "domain": false, "tickSize": -8, "tickColor": "black", "tickWidth": 1.2, "labelFont": "DejaVu Sans", "labelFontSize": 28, "labelColor": "black", "labelPadding": 29, "labelOverlap": false, "labelFlush": false, "titleFont": "DejaVu Sans", "titleFontSize": 30, "titleFontWeight": "normal", "titleColor": "black", "titleX": -79, "titleY": 346, "titleAngle": 270, "titleBaseline": "alphabetic", "titleAlign": "center", "titleAnchor": "middle"}},
"color": {"field": "s", "type": "nominal", "scale": {"domain": ["b","g","r","c","m","y","k"], "range": ["#0000ff","#008000","#ff0000","#00bfbf","#bf00bf","#bfbf00","#000000"]}, "legend": null},
"detail": {"field": "c", "type": "nominal"}
}
},
{
"data": {"name": "center"},
"mark": {"type": "rule", "color": "black", "strokeWidth": 3.5, "strokeDash": [16,5,4,5]},
"encoding": {
"x": {"field": "x", "type": "quantitative", "scale": {"domain": [-8, 8], "nice": false, "zero": false}, "axis": {"orient": "top", "values": [-8,-6,-4,-2,0,2,4,6,8], "labels": false, "title": null, "grid": false, "domain": false, "tickSize": -8, "tickColor": "black", "tickWidth": 1.2}},
"y": {"field": "y", "type": "quantitative", "scale": {"domain": [0, 1], "nice": false, "zero": false}, "axis": {"orient": "right", "values": [0,0.2,0.4,0.6,0.8,1], "labels": false, "title": null, "grid": false, "domain": false, "tickSize": -8, "tickColor": "black", "tickWidth": 1.2}},
"y2": {"field": "y2"}
}
},
{
"data": {"name": "notes"},
"transform": [{"filter": "datum.g == 'top'"}],
"mark": {"type": "text", "font": "Lato", "fontSize": 31, "align": "left", "baseline": "alphabetic", "color": "black"},
"encoding": {
"x": {"field": "x", "type": "quantitative", "scale": {"domain": [-8, 8], "nice": false, "zero": false}, "axis": null},
"y": {"field": "y", "type": "quantitative", "scale": {"domain": [0, 1], "nice": false, "zero": false}, "axis": null},
"text": {"field": "t"}
}
},
{
"data": {"name": "notes"},
"transform": [{"filter": "datum.g == 'red'"}],
"mark": {"type": "text", "font": "Lato", "fontSize": 30, "align": "left", "baseline": "alphabetic", "color": "#ff0000"},
"encoding": {
"x": {"field": "x", "type": "quantitative", "scale": {"domain": [-8, 8], "nice": false, "zero": false}, "axis": null},
"y": {"field": "y", "type": "quantitative", "scale": {"domain": [0, 1], "nice": false, "zero": false}, "axis": null},
"text": {"field": "t"}
}
},
{
"data": {"name": "notes"},
"transform": [{"filter": "datum.g == 'rot'"}],
"mark": {"type": "text", "font": "Lato", "fontSize": 35, "align": "left", "baseline": "alphabetic", "angle": 270, "color": "black"},
"encoding": {
"x": {"field": "x", "type": "quantitative", "scale": {"domain": [-8, 8], "nice": false, "zero": false}, "axis": null},
"y": {"field": "y", "type": "quantitative", "scale": {"domain": [0, 1], "nice": false, "zero": false}, "axis": null},
"text": {"field": "t"}
}
}
],
"resolve": {"axis": {"x": "independent", "y": "independent"}}
}
